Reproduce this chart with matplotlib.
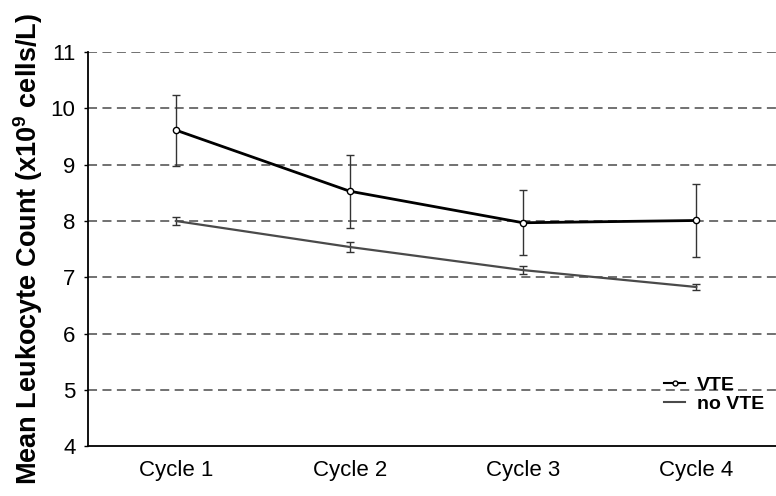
import matplotlib.pyplot as plt
import numpy as np

# Data
cycles = ['Cycle 1', 'Cycle 2', 'Cycle 3', 'Cycle 4']
vte_mean = [9.61, 8.53, 7.97, 8.01]
vte_err = [0.63, 0.65, 0.58, 0.65]
novte_mean = [8.00, 7.54, 7.13, 6.83]
novte_err = [0.07, 0.09, 0.07, 0.05]

plt.rcParams['font.family'] = ['Liberation Sans', 'DejaVu Sans']
plt.rcParams['mathtext.fontset'] = 'custom'
plt.rcParams['mathtext.bf'] = 'Liberation Sans:bold'
plt.rcParams['mathtext.rm'] = 'Liberation Sans'

fig = plt.figure(figsize=(7.76, 4.96), dpi=100)
ax = fig.add_axes([0.1134, 0.0998, 0.8866, 0.7954])

x = np.arange(1, len(cycles) + 1)

# dashed gridlines
for yv in range(5, 12):
    ax.axhline(yv, color='#666666', lw=1.3, ls=(0, (5, 3)), zorder=0)

# no VTE
ax.errorbar(x, novte_mean, yerr=novte_err, color='#4a4a4a', lw=1.6,
            elinewidth=1, capsize=3.2, capthick=1, ecolor='#333333', zorder=2)
# VTE
ax.errorbar(x, vte_mean, yerr=vte_err, color='black', lw=2.0,
            elinewidth=1, capsize=3.2, capthick=1, ecolor='#333333', zorder=3)
ax.plot(x, vte_mean, 'o', ms=4.5, mfc='white', mec='black', mew=1, zorder=4)

# legend handles
ax.plot([], [], '-o', color='black', lw=1.5, ms=3.5, mfc='white', mec='black',
        label='VTE')
ax.plot([], [], '-', color='#4a4a4a', lw=1.5, label='no VTE')
leg = ax.legend(loc='lower right', bbox_to_anchor=(1.0, 0.055), frameon=False,
                prop={'weight': 'bold', 'size': 14}, handlelength=1.1,
                handletextpad=0.6, labelspacing=0.1, borderaxespad=0.2)

ax.set_xlim(0.49, 4.46)
ax.set_ylim(4, 11)
ax.set_xticks(x)
ax.set_xticklabels(cycles)
ax.set_yticks(range(4, 12))
ax.tick_params(axis='both', labelsize=16, length=3, width=1, colors='black')
ax.tick_params(axis='x', length=0, pad=10)
ax.tick_params(axis='y', pad=6)

for side in ['top', 'right']:
    ax.spines[side].set_visible(False)
ax.spines['left'].set_linewidth(1.3)
ax.spines['bottom'].set_linewidth(1.3)

ax.set_ylabel('Mean Leukocyte Count (x10$^{\\mathbf{9}}$ cells/L)', fontsize=19.5,
              fontweight='bold')
ax.yaxis.set_label_coords(-0.063, 0.5)

fig.savefig('out.png', dpi=100)
